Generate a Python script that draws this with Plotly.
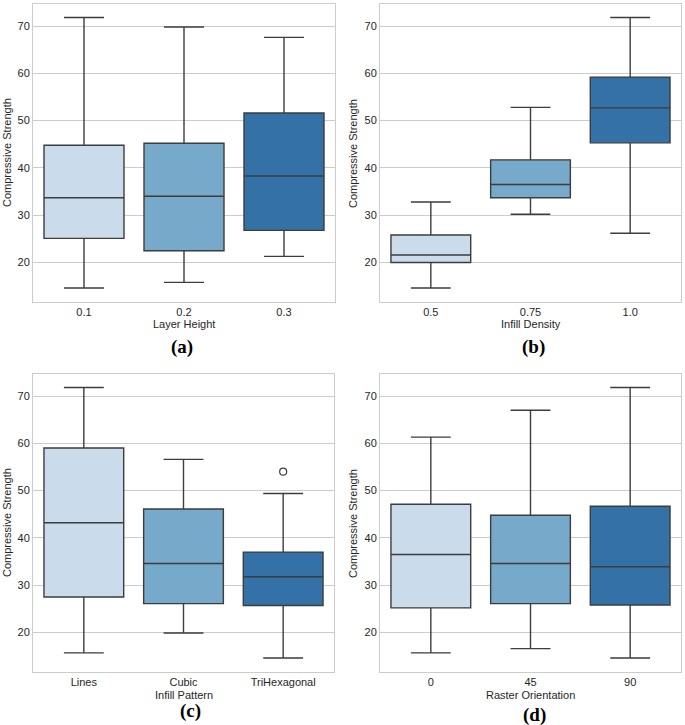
import plotly.graph_objects as go

W, H = 685, 725

# ---------------- data ----------------
layer_cats = ["0.1", "0.2", "0.3"]
layer_low = [14.6, 15.8, 21.3]
layer_q1 = [25.1, 22.5, 26.8]
layer_med = [33.7, 34.0, 38.3]
layer_q3 = [44.8, 45.2, 51.6]
layer_high = [71.8, 69.8, 67.6]

density_cats = ["0.5", "0.75", "1.0"]
density_low = [14.6, 30.2, 26.2]
density_q1 = [20.0, 33.7, 45.3]
density_med = [21.6, 36.5, 52.7]
density_q3 = [25.8, 41.7, 59.2]
density_high = [32.8, 52.8, 71.8]

pattern_cats = ["Lines", "Cubic", "TriHexagonal"]
pattern_low = [15.7, 19.9, 14.6]
pattern_q1 = [27.5, 26.1, 25.7]
pattern_med = [43.2, 34.6, 31.8]
pattern_q3 = [59.0, 46.1, 37.0]
pattern_high = [71.8, 56.6, 49.4]
pattern_outlier_cats = ["TriHexagonal"]
pattern_outlier_vals = [54.0]

raster_cats = ["0", "45", "90"]
raster_low = [15.7, 16.6, 14.6]
raster_q1 = [25.2, 26.1, 25.8]
raster_med = [36.5, 34.6, 33.9]
raster_q3 = [47.1, 44.8, 46.7]
raster_high = [61.3, 67.0, 71.8]

y_ticks = [20, 30, 40, 50, 60, 70]

palette = ["#cadbeb", "#77a9cb", "#3371a6"]
edge = "#3d3d3d"

# ---------------- layout geometry (pixels) ----------------
panels = [
    dict(ax="", x0=33, x1=335, y0=4, y1=302, cats=layer_cats, low=layer_low, q1=layer_q1,
         med=layer_med, q3=layer_q3, high=layer_high, xt="Layer Height", letter="(a)",
         lx=182, ly=347, tx=7, ty=324),
    dict(ax="2", x0=380, x1=681, y0=4, y1=302, cats=density_cats, low=density_low, q1=density_q1,
         med=density_med, q3=density_q3, high=density_high, xt="Infill Density", letter="(b)",
         lx=533, ly=347, tx=353, ty=324),
    dict(ax="3", x0=33, x1=334, y0=374, y1=672, cats=pattern_cats, low=pattern_low, q1=pattern_q1,
         med=pattern_med, q3=pattern_q3, high=pattern_high, xt="Infill Pattern", letter="(c)",
         lx=190, ly=711, tx=7, ty=695),
    dict(ax="4", x0=380, x1=681, y0=374, y1=672, cats=raster_cats, low=raster_low, q1=raster_q1,
         med=raster_med, q3=raster_q3, high=raster_high, xt="Raster Orientation", letter="(d)",
         lx=534, ly=715, tx=353, ty=695),
]

def px(x):
    return x / W

def py(y):
    return 1 - y / H

fig = go.Figure()
annotations = []
font_family = "Liberation Sans, Arial, sans-serif"

for p in panels:
    xa = "x" + p["ax"]
    ya = "y" + p["ax"]
    for i, c in enumerate(p["cats"]):
        fig.add_trace(go.Box(
            x=[c], q1=[p["q1"][i]], median=[p["med"][i]], q3=[p["q3"][i]],
            lowerfence=[p["low"][i]], upperfence=[p["high"][i]],
            fillcolor=palette[i], line=dict(color=edge, width=1.4),
            whiskerwidth=0.5, width=0.8, boxpoints=False,
            xaxis=xa, yaxis=ya, showlegend=False, hoverinfo="skip",
        ))
    if p["cats"] is pattern_cats:
        fig.add_trace(go.Scatter(
            x=pattern_outlier_cats, y=pattern_outlier_vals, mode="markers",
            marker=dict(symbol="circle-open", size=7, color=edge, line=dict(width=1.2)),
            xaxis=xa, yaxis=ya, showlegend=False, hoverinfo="skip",
        ))
    xkey = "xaxis" + p["ax"]
    ykey = "yaxis" + p["ax"]
    fig.update_layout(**{
        xkey: dict(
            domain=[px(p["x0"]), px(p["x1"])], anchor=ya, type="category",
            categoryorder="array", categoryarray=p["cats"], range=[-0.51, 2.51],
            showgrid=False, showline=True, mirror=True, linecolor="#cccccc", linewidth=1,
            ticks="", tickfont=dict(family=font_family, size=11, color="#262626"),
            zeroline=False, fixedrange=True,
        ),
        ykey: dict(
            domain=[py(p["y1"]), py(p["y0"])], anchor=xa, range=[11.65, 74.65],
            tickvals=y_ticks, showgrid=True, gridcolor="#cccccc", gridwidth=1,
            showline=True, mirror=True, linecolor="#cccccc", linewidth=1,
            ticks="", tickfont=dict(family=font_family, size=11, color="#262626"),
            zeroline=False, fixedrange=True,
        ),
    })
    annotations.append(dict(
        text=p["xt"], x=px((p["x0"] + p["x1"]) / 2), y=py(p["ty"]), xref="paper", yref="paper",
        showarrow=False, xanchor="center", yanchor="middle",
        font=dict(family=font_family, size=11, color="#262626"),
    ))
    annotations.append(dict(
        text="Compressive Strength", x=px(p["tx"]), y=py((p["y0"] + p["y1"]) / 2),
        xref="paper", yref="paper", showarrow=False, textangle=-90,
        xanchor="center", yanchor="middle",
        font=dict(family=font_family, size=11, color="#262626"),
    ))
    annotations.append(dict(
        text="<b>" + p["letter"] + "</b>", x=px(p["lx"]), y=py(p["ly"]), xref="paper", yref="paper",
        showarrow=False, xanchor="center", yanchor="middle",
        font=dict(family="Liberation Serif, Times New Roman, serif", size=19, color="#000000"),
    ))

fig.update_layout(
    width=W, height=H, margin=dict(l=0, r=0, t=0, b=0),
    paper_bgcolor="white", plot_bgcolor="white",
    boxmode="overlay", annotations=annotations, showlegend=False,
)

fig.write_html(
    "out.html",
    config={"displayModeBar": False},
    post_script="document.body.style.margin='0';document.body.style.padding='0';"
                "document.body.style.overflow='hidden';",
)
